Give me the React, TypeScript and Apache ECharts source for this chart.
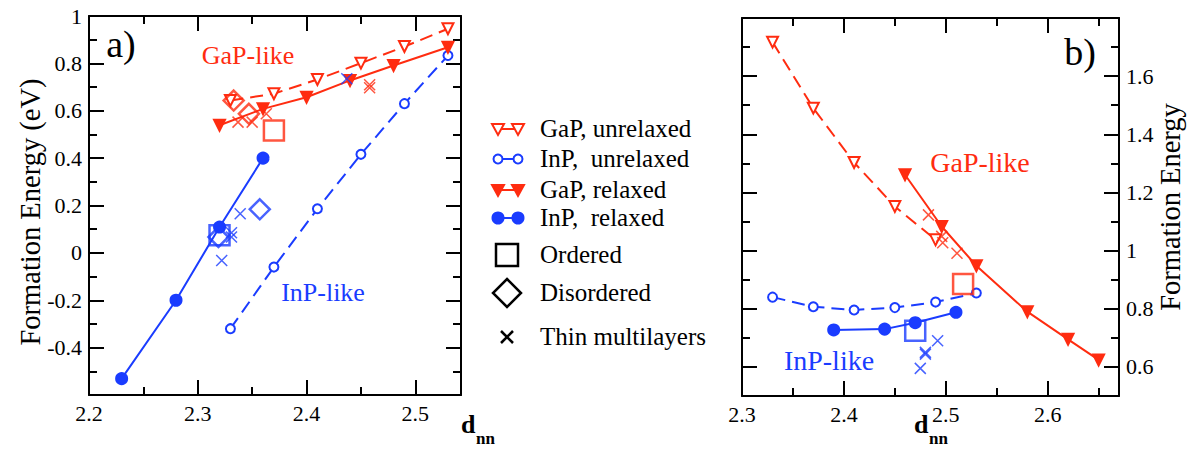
import React, { useEffect, useRef } from 'react';
import * as echarts from 'echarts';

const RED = '#ff2c10';
const BLUE = '#1a3cff';
const FONT = 'Liberation Serif';

// ---------- Panel a) data  [d_nn, formation energy] ----------
const aGaPUnrelaxed = [[2.33, 0.643], [2.37, 0.672], [2.41, 0.732], [2.45, 0.801], [2.49, 0.871], [2.53, 0.946]];
const aInPUnrelaxed = [[2.33, -0.32], [2.37, -0.06], [2.41, 0.186], [2.45, 0.416], [2.49, 0.63], [2.53, 0.833]];
const aGaPRelaxed = [[2.32, 0.539], [2.36, 0.608], [2.40, 0.657], [2.44, 0.728], [2.48, 0.791], [2.53, 0.868]];
const aInPRelaxed = [[2.23, -0.531], [2.28, -0.2], [2.32, 0.109], [2.36, 0.40]];
const aOrderedGaP = [[2.37, 0.517]];
const aOrderedInP = [[2.32, 0.074]];
const aDisorderedGaP = [[2.333, 0.643], [2.347, 0.587]];
const aDisorderedInP = [[2.357, 0.184], [2.319, 0.067]];
const aThinGaP = [[2.337, 0.552], [2.35, 0.552], [2.363, 0.587], [2.458, 0.697], [2.458, 0.71]];
const aThinInP = [[2.437, 0.735], [2.339, 0.165], [2.331, 0.067], [2.331, 0.085], [2.322, -0.032]];

// ---------- Panel b) data ----------
const bGaPUnrelaxed = [[2.33, 1.717], [2.37, 1.49], [2.41, 1.303], [2.45, 1.152], [2.49, 1.037]];
const bInPUnrelaxed = [[2.33, 0.84], [2.37, 0.807], [2.41, 0.796], [2.45, 0.804], [2.49, 0.823], [2.53, 0.854]];
const bGaPRelaxed = [[2.46, 1.261], [2.496, 1.083], [2.53, 0.948], [2.58, 0.79], [2.62, 0.695], [2.65, 0.624]];
const bInPRelaxed = [[2.39, 0.727], [2.44, 0.73], [2.47, 0.752], [2.51, 0.788]];
const bOrderedGaP = [[2.517, 0.885]];
const bOrderedInP = [[2.47, 0.724]];
const bThinGaP = [[2.483, 1.123], [2.496, 1.049], [2.497, 1.027], [2.511, 0.991]];
const bThinInP = [[2.492, 0.69], [2.48, 0.644], [2.48, 0.65], [2.475, 0.595]];

// ---------- Axis ranges & ticks ----------
const aXRange = [2.2, 2.542];
const aYRange = [-0.6, 1.0];
const aXMajor = [2.2, 2.3, 2.4, 2.5];
const aXMinor = [2.25, 2.35, 2.45];
const aXLabels = [2.2, 2.3, 2.4, 2.5];
const aYMajor = [-0.6, -0.4, -0.2, 0, 0.2, 0.4, 0.6, 0.8, 1.0];
const aYMinor = [-0.5, -0.3, -0.1, 0.1, 0.3, 0.5, 0.7, 0.9];
const aYLabels = [-0.4, -0.2, 0, 0.2, 0.4, 0.6, 0.8, 1.0];

const bXRange = [2.3, 2.67];
const bYRange = [0.5, 1.8];
const bXMajor = [2.3, 2.4, 2.5, 2.6];
const bXMinor = [2.35, 2.45, 2.55, 2.65];
const bXLabels = [2.3, 2.4, 2.5, 2.6];
const bYMajor = [0.6, 0.8, 1.0, 1.2, 1.4, 1.6];
const bYMinor = [0.5, 0.7, 0.9, 1.1, 1.3, 1.5, 1.7];
const bYLabels = [0.6, 0.8, 1.0, 1.2, 1.4, 1.6];

const legendLabels = ['GaP, unrelaxed', 'InP,  unrelaxed', 'GaP, relaxed', 'InP,  relaxed', 'Ordered', 'Disordered', 'Thin multilayers'];

const fmt = (v: number) => String(Math.round(v * 10) / 10);

function mkAxis(grid: number, position: string, range: number[], ticks: number[], len: number, line: boolean, labels?: number[]) {
  return {
    type: 'value',
    gridIndex: grid,
    position,
    min: range[0],
    max: range[1],
    splitLine: { show: false },
    axisLine: { show: line, onZero: false, lineStyle: { color: '#000', width: 2 } },
    axisTick: { show: true, inside: true, length: len, customValues: ticks, lineStyle: { color: '#000', width: 2 } },
    axisLabel: labels
      ? { show: true, customValues: labels, formatter: fmt, fontFamily: FONT, fontSize: 22, color: '#000', margin: 7 }
      : { show: false },
  };
}

const X_SYMBOL = 'path://M0 0L10 10M10 0L0 10';

function lineSeries(ax: number, data: number[][], color: string, filled: boolean, tri: boolean, dashed: boolean) {
  return {
    type: 'line',
    xAxisIndex: ax,
    yAxisIndex: ax,
    data,
    symbol: tri ? 'triangle' : 'circle',
    symbolRotate: tri ? 180 : 0,
    symbolSize: tri ? 11 : filled ? 11 : 9,
    showSymbol: true,
    lineStyle: { color, width: 2, type: dashed ? [13, 7] : 'solid' },
    itemStyle: { color: filled ? color : '#fff', borderColor: color, borderWidth: 2 },
    z: 3,
    silent: true,
  };
}

function scatter(ax: number, data: number[][], color: string, symbol: string, size: number, bw: number) {
  return {
    type: 'scatter',
    xAxisIndex: ax,
    yAxisIndex: ax,
    data,
    symbol,
    symbolSize: size,
    itemStyle: { color: 'rgba(0,0,0,0)', borderColor: color, borderWidth: bw },
    z: 4,
    silent: true,
  };
}

function legendGraphics() {
  const els: any[] = [];
  const x1 = 498, x2 = 518, tx = 540;
  const rows = [129, 159, 190, 218, 255, 293, 337];
  const tri = (x: number, y: number, fill: string) => ({
    type: 'polygon', shape: { points: [[x - 6, y - 5], [x + 6, y - 5], [x, y + 6]] },
    style: { fill, stroke: RED, lineWidth: 2 },
  });
  const circ = (x: number, y: number, r: number, fill: string) => ({
    type: 'circle', shape: { cx: x, cy: y, r }, style: { fill, stroke: BLUE, lineWidth: 2 },
  });
  const ln = (y: number, color: string) => ({ type: 'line', shape: { x1, y1: y, x2, y2: y }, style: { stroke: color, lineWidth: 2 } });
  els.push(ln(rows[0], RED), tri(x1, rows[0], '#fff'), tri(x2, rows[0], '#fff'));
  els.push(ln(rows[1], BLUE), circ(x1, rows[1], 4.5, '#fff'), circ(x2, rows[1], 4.5, '#fff'));
  els.push(ln(rows[2], RED), tri(x1, rows[2], RED), tri(x2, rows[2], RED));
  els.push(ln(rows[3], BLUE), circ(x1, rows[3], 5.5, BLUE), circ(x2, rows[3], 5.5, BLUE));
  const cx = 507;
  els.push({ type: 'rect', shape: { x: cx - 11, y: rows[4] - 11, width: 22, height: 22 }, style: { fill: 'none', stroke: '#000', lineWidth: 2.5 } });
  els.push({ type: 'polygon', shape: { points: [[cx, rows[5] - 14], [cx + 14, rows[5]], [cx, rows[5] + 14], [cx - 14, rows[5]]] }, style: { fill: 'none', stroke: '#000', lineWidth: 2.5 } });
  els.push({ type: 'line', shape: { x1: cx - 6, y1: rows[6] - 6, x2: cx + 6, y2: rows[6] + 6 }, style: { stroke: '#000', lineWidth: 2.5 } });
  els.push({ type: 'line', shape: { x1: cx + 6, y1: rows[6] - 6, x2: cx - 6, y2: rows[6] + 6 }, style: { stroke: '#000', lineWidth: 2.5 } });
  legendLabels.forEach((t, i) => {
    els.push({
      type: 'text', x: tx, y: rows[i] - 1,
      style: { text: t, fontFamily: FONT, fontSize: 25, fill: '#000', align: 'left', verticalAlign: 'middle' },
    });
  });
  return els;
}

function txt(x: number, y: number, text: string, size: number, fill: string, extra: any = {}) {
  return {
    type: 'text', x, y, ...extra,
    style: { text, fontFamily: FONT, fontSize: size, fill, align: 'center', verticalAlign: 'middle', ...(extra.style || {}) },
  };
}

export default function App() {
  const ref = useRef<HTMLDivElement>(null);
  useEffect(() => {
    if (!ref.current) return;
    const chart = echarts.init(ref.current, undefined, { renderer: 'svg' });
    const option: any = {
      animation: false,
      backgroundColor: '#fff',
      grid: [
        { left: 89, top: 16, width: 372, height: 379 },
        { left: 742, top: 18, width: 377, height: 378 },
      ],
      xAxis: [
        mkAxis(0, 'bottom', aXRange, aXMajor, 15, true, aXLabels),
        mkAxis(0, 'bottom', aXRange, aXMinor, 8, false),
        mkAxis(0, 'top', aXRange, aXMajor, 15, true),
        mkAxis(0, 'top', aXRange, aXMinor, 8, false),
        mkAxis(1, 'bottom', bXRange, bXMajor, 15, true, bXLabels),
        mkAxis(1, 'bottom', bXRange, bXMinor, 8, false),
        mkAxis(1, 'top', bXRange, bXMajor, 15, true),
        mkAxis(1, 'top', bXRange, bXMinor, 8, false),
      ],
      yAxis: [
        mkAxis(0, 'left', aYRange, aYMajor, 15, true, aYLabels),
        mkAxis(0, 'left', aYRange, aYMinor, 8, false),
        mkAxis(0, 'right', aYRange, aYMajor, 15, true),
        mkAxis(0, 'right', aYRange, aYMinor, 8, false),
        mkAxis(1, 'right', bYRange, bYMajor, 15, true, bYLabels),
        mkAxis(1, 'right', bYRange, bYMinor, 8, false),
        mkAxis(1, 'left', bYRange, bYMajor, 15, true),
        mkAxis(1, 'left', bYRange, bYMinor, 8, false),
      ],
      series: [
        lineSeries(0, aGaPUnrelaxed, RED, false, true, true),
        lineSeries(0, aInPUnrelaxed, BLUE, false, false, true),
        lineSeries(0, aGaPRelaxed, RED, true, true, false),
        lineSeries(0, aInPRelaxed, BLUE, true, false, false),
        scatter(0, aOrderedGaP, RED, 'rect', 20, 2.5),
        scatter(0, aOrderedInP, BLUE, 'rect', 20, 2.5),
        scatter(0, aDisorderedGaP, RED, 'diamond', 20, 2.5),
        scatter(0, aDisorderedInP, BLUE, 'diamond', 20, 2.5),
        scatter(0, aThinGaP, RED, X_SYMBOL, 11, 1.5),
        scatter(0, aThinInP, BLUE, X_SYMBOL, 11, 1.5),
        lineSeries(4, bGaPUnrelaxed, RED, false, true, true),
        lineSeries(4, bInPUnrelaxed, BLUE, false, false, true),
        lineSeries(4, bGaPRelaxed, RED, true, true, false),
        lineSeries(4, bInPRelaxed, BLUE, true, false, false),
        scatter(4, bOrderedGaP, RED, 'rect', 20, 2.5),
        scatter(4, bOrderedInP, BLUE, 'rect', 20, 2.5),
        scatter(4, bThinGaP, RED, X_SYMBOL, 11, 1.5),
        scatter(4, bThinInP, BLUE, X_SYMBOL, 11, 1.5),
      ],
      graphic: [
        txt(121, 44, 'a)', 38, '#000'),
        txt(1080, 52, 'b)', 38, '#000'),
        txt(248, 55, 'GaP-like', 26, RED),
        txt(323, 292, 'InP-like', 26, BLUE),
        txt(980, 162, 'GaP-like', 28, RED),
        txt(829, 360, 'InP-like', 28, BLUE),
        txt(30, 212, 'Formation Energy (eV)', 28.5, '#000', { rotation: Math.PI / 2 }),
        txt(1170, 207, 'Formation Energy', 28.5, '#000', { rotation: Math.PI / 2 }),
        { type: 'text', x: 461, y: 437, style: { text: 'd', fontFamily: FONT, fontSize: 26, fontWeight: 'bold', fill: '#000', align: 'left', verticalAlign: 'bottom' } },
        { type: 'text', x: 476, y: 447, style: { text: 'nn', fontFamily: FONT, fontSize: 17, fontWeight: 'bold', fill: '#000', align: 'left', verticalAlign: 'bottom' } },
        { type: 'text', x: 914, y: 437, style: { text: 'd', fontFamily: FONT, fontSize: 26, fontWeight: 'bold', fill: '#000', align: 'left', verticalAlign: 'bottom' } },
        { type: 'text', x: 929, y: 447, style: { text: 'nn', fontFamily: FONT, fontSize: 17, fontWeight: 'bold', fill: '#000', align: 'left', verticalAlign: 'bottom' } },
        ...legendGraphics(),
      ],
    };
    chart.setOption(option);
    return () => chart.dispose();
  }, []);
  return <div ref={ref} style={{ position: 'absolute', left: 0, top: 0, width: 1191, height: 459 }} />;
}
